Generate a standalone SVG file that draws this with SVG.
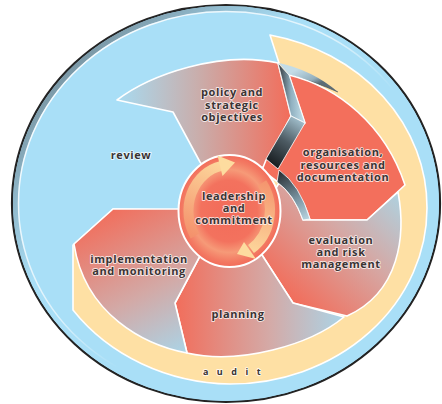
<svg xmlns="http://www.w3.org/2000/svg" width="442" height="404" viewBox="0 0 442 404">
<defs>
<style>
.lbl{font-family:"Open Sans","Liberation Sans",sans-serif;font-weight:bold;font-size:11px;letter-spacing:0.6px;fill:#3a3434;stroke:#ffffff;stroke-width:1.8px;stroke-opacity:0.75;stroke-linejoin:round;paint-order:stroke;text-anchor:middle}
.aud{font-size:9px;letter-spacing:8.5px}
.seg{stroke:#ffffff;stroke-width:1.6;stroke-linejoin:round}
.fin{stroke:#ffffff;stroke-width:0.8;stroke-linejoin:round}
</style>
<linearGradient id="rimG" gradientUnits="userSpaceOnUse" x1="40" y1="40" x2="300" y2="300">
<stop offset="0" stop-color="#6c818c"/><stop offset="0.45" stop-color="#a9dff7"/><stop offset="1" stop-color="#a9dff7"/>
</linearGradient>
<linearGradient id="whiteRim" gradientUnits="userSpaceOnUse" x1="40" y1="40" x2="330" y2="330">
<stop offset="0" stop-color="#fff" stop-opacity="1"/><stop offset="0.5" stop-color="#fff" stop-opacity="0.6"/><stop offset="0.7" stop-color="#fff" stop-opacity="0"/>
</linearGradient>
<linearGradient id="gPolicy" gradientUnits="userSpaceOnUse" x1="120" y1="0" x2="292" y2="0">
<stop offset="0" stop-color="#a9d9ee"/><stop offset="0.45" stop-color="#c9aeac"/><stop offset="1" stop-color="#f36c59"/>
</linearGradient>
<linearGradient id="gEval" gradientUnits="userSpaceOnUse" x1="300" y1="305" x2="400" y2="200">
<stop offset="0" stop-color="#f16f5d"/><stop offset="0.55" stop-color="#d6a7a3"/><stop offset="1" stop-color="#b1cfdc"/>
</linearGradient>
<linearGradient id="gPlan" gradientUnits="userSpaceOnUse" x1="178" y1="0" x2="345" y2="0">
<stop offset="0" stop-color="#f16f5d"/><stop offset="0.55" stop-color="#d4aaa7"/><stop offset="1" stop-color="#aad5e8"/>
</linearGradient>
<linearGradient id="gImpl" gradientUnits="userSpaceOnUse" x1="110" y1="210" x2="185" y2="355">
<stop offset="0" stop-color="#f16f5d"/><stop offset="0.55" stop-color="#d3a9a6"/><stop offset="1" stop-color="#aad5e8"/>
</linearGradient>
<linearGradient id="gFinUp" gradientUnits="userSpaceOnUse" x1="280" y1="0" x2="302" y2="0">
<stop offset="0" stop-color="#3e464c"/><stop offset="0.5" stop-color="#8fafbf"/><stop offset="1" stop-color="#bcd8e4"/>
</linearGradient>
<linearGradient id="gFinLow" gradientUnits="userSpaceOnUse" x1="270" y1="165" x2="302" y2="118">
<stop offset="0" stop-color="#15191c"/><stop offset="0.5" stop-color="#4d5b63"/><stop offset="1" stop-color="#a9c8d6"/>
</linearGradient>
<linearGradient id="gFin2" gradientUnits="userSpaceOnUse" x1="282" y1="172" x2="310" y2="218">
<stop offset="0" stop-color="#2c3338"/><stop offset="0.6" stop-color="#7d98a6"/><stop offset="1" stop-color="#b8d4e0"/>
</linearGradient>
<linearGradient id="gSliver" gradientUnits="userSpaceOnUse" x1="300" y1="68" x2="310" y2="88">
<stop offset="0" stop-color="#c3dce7"/><stop offset="0.7" stop-color="#93afbd"/><stop offset="1" stop-color="#5d6d76"/>
</linearGradient>
<radialGradient id="gCircle" cx="229" cy="211" r="56" gradientUnits="userSpaceOnUse" gradientTransform="translate(229 211) scale(0.92 1) translate(-229 -211)">
<stop offset="0" stop-color="#f26b59"/><stop offset="0.55" stop-color="#f3725e"/><stop offset="0.74" stop-color="#f69a78"/><stop offset="0.9" stop-color="#f37a63"/><stop offset="1" stop-color="#f26b59"/>
</radialGradient>
<linearGradient id="gArrL" gradientUnits="userSpaceOnUse" x1="192" y1="238" x2="228" y2="160">
<stop offset="0" stop-color="#f4906b"/><stop offset="1" stop-color="#fddc9f"/>
</linearGradient>
<linearGradient id="gArrR" gradientUnits="userSpaceOnUse" x1="262" y1="175" x2="240" y2="255">
<stop offset="0" stop-color="#f4906b"/><stop offset="1" stop-color="#fddc9f"/>
</linearGradient>
</defs>

<g id="background">
<ellipse cx="226" cy="203.5" rx="214" ry="198.5" fill="#a9dff7" stroke="#232323" stroke-width="2.2"/>
<ellipse cx="226" cy="203.5" rx="210.5" ry="195" fill="none" stroke="url(#rimG)" stroke-width="5"/>
<ellipse cx="226" cy="203.5" rx="207.5" ry="192" fill="none" stroke="url(#whiteRim)" stroke-width="1.5"/>
</g>

<g id="audit">
<path d="M270,35 A197,176 0 0,1 427,208 A197,176 0 0,1 230,384 A197,176 0 0,1 73,310 L73,245 L113,209 L229,211 L279,63 Z" fill="#fee0a4" stroke="#ffffff" stroke-width="1.6" stroke-linejoin="round"/>
<path d="M279,63 Q312,70 338,92 Q316,82 289,75 Z" fill="url(#gSliver)"/>
<path d="M289,75 Q316,82 338,92" fill="none" stroke="#4e5c64" stroke-width="0.8"/>
<text class="lbl aud" x="236" y="375">audit</text>
</g>

<g id="policy">
<path class="seg" d="M117,100 C150,75 220,50 278,63 L291,116 L265,165 L230,200 L200,162 L173,112 Z" fill="url(#gPolicy)"/>
<text class="lbl" x="232" y="96">policy and</text>
<text class="lbl" x="232" y="108.5">strategic</text>
<text class="lbl" x="232" y="121">objectives</text>
</g>

<g id="organisation">
<path class="seg" d="M289,75 C338,87 385,125 405,185 L367,220 L310,220 Q300,186 279,183 L262,170 L266,160 L305,123 Z" fill="#f36f5c"/>
<text class="lbl" x="343" y="156">organisation,</text>
<text class="lbl" x="343" y="168.5">resources and</text>
<text class="lbl" x="343" y="181">documentation</text>
</g>

<g id="evaluation">
<path class="seg" d="M303,220 L367,220 L398,192 C406,235 400,292 347,316 L293,303 L262,255 L272,195 L279,183 Q294,194 303,220 Z" fill="url(#gEval)"/>
<text class="lbl" x="341" y="244">evaluation</text>
<text class="lbl" x="341" y="256">and risk</text>
<text class="lbl" x="341" y="268">management</text>
</g>

<g id="planning">
<path class="seg" d="M200,256 L262,255 L293,303 L344,317 C310,345 240,365 187,353 L175,303 Z" fill="url(#gPlan)"/>
<text class="lbl" x="238" y="318">planning</text>
</g>

<g id="implementation">
<path class="seg" d="M113,209 L185,209 L200,256 L175,303 L187,353 C145,345 85,315 74,244 Z" fill="url(#gImpl)"/>
<text class="lbl" x="139" y="263">implementation</text>
<text class="lbl" x="139" y="275">and monitoring</text>
</g>

<g id="fins">
<path class="fin" d="M278,63 L289,75 L305,123 L291,116 Z" fill="url(#gFinUp)"/>
<path class="fin" d="M291,116 L305,123 L278,169 L266,159 Z" fill="url(#gFinLow)"/>
<path class="fin" d="M279,170 Q300,185 310,219 L303,220 Q294,194 277,182 Z" fill="url(#gFin2)"/>
</g>

<g id="review">
<text class="lbl" x="131" y="159">review</text>
</g>

<g id="leadership">
<ellipse cx="229.5" cy="211" rx="51" ry="56" fill="url(#gCircle)" stroke="#ffffff" stroke-width="2"/>
</g>

<g id="connectors">
<path d="M195,236 A41,46 0 0,1 221,166" fill="none" stroke="url(#gArrL)" stroke-width="10"/>
<path d="M217.5,155.5 L222.5,176 L235,162.5 Z" fill="#fddc9f"/>
<path d="M262,183 A41,46 0 0,1 251,249" fill="none" stroke="url(#gArrR)" stroke-width="10"/>
<path d="M256,259 L244,242 L237,254 Z" fill="#fddc9f"/>
</g>

<g id="leadership-label">
<text class="lbl" x="234" y="200">leadership</text>
<text class="lbl" x="234" y="212">and</text>
<text class="lbl" x="234" y="224">commitment</text>
</g>
</svg>
